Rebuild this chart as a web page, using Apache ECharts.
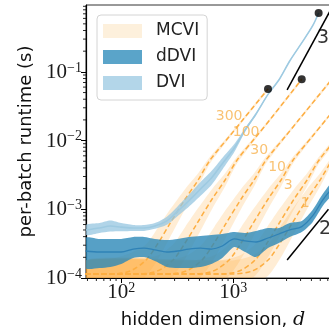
<!DOCTYPE html>
<html>
<head>
<meta charset="utf-8">
<script src="https://cdn.jsdelivr.net/npm/echarts@6/dist/echarts.min.js"></script>
<style>
  html, body { margin: 0; padding: 0; background: #fff; }
  #runtimeChart { width: 329px; height: 328px; }
</style>
</head>
<body>
<div id="runtimeChart"></div>
<script>
// rows are [hidden dimension d, low, mean, high], runtime in seconds
var dviRuns = [
  [48, 4.24e-4, 5.0e-4, 5.9e-4], [64, 4.53e-4, 5.35e-4, 6.3e-4], [80, 4.75e-4, 5.7e-4, 6.85e-4],
  [100, 4.8e-4, 5.5e-4, 6.3e-4], [128, 4.85e-4, 5.35e-4, 5.9e-4], [160, 4.85e-4, 5.35e-4, 5.9e-4],
  [200, 5.2e-4, 5.7e-4, 6.3e-4], [256, 5.95e-4, 6.8e-4, 7.8e-4], [320, 8.0e-4, 9.4e-4, 1.11e-3],
  [400, 1.08e-3, 1.32e-3, 1.61e-3], [512, 1.57e-3, 1.98e-3, 2.5e-3], [640, 2.26e-3, 2.85e-3, 3.6e-3],
  [800, 3.77e-3, 4.6e-3, 5.6e-3], [1024, 6.8e-3, 7.8e-3, 8.9e-3], [1280, 1.34e-2, 1.43e-2, 1.53e-2],
  [1600, 2.36e-2, 2.44e-2, 2.53e-2], [2048, 4.6e-2, 4.7e-2, 4.8e-2], [2560, 7.45e-2, 7.6e-2, 7.75e-2],
  [3200, 0.141, 0.144, 0.147], [4096, 0.259, 0.264, 0.269], [5120, 0.457, 0.466, 0.475],
  [5800, 0.706, 0.72, 0.734]
];
var ddviRuns = [
  [48, 1.40e-4, 2.47e-4, 3.82e-4], [64, 1.40e-4, 2.39e-4, 3.70e-4], [80, 1.45e-4, 2.39e-4, 3.70e-4],
  [100, 1.60e-4, 2.39e-4, 3.70e-4], [128, 1.96e-4, 2.64e-4, 3.95e-4], [160, 2.02e-4, 2.73e-4, 3.95e-4],
  [200, 1.77e-4, 2.56e-4, 3.70e-4], [256, 1.45e-4, 2.39e-4, 3.57e-4], [320, 1.40e-4, 2.47e-4, 3.70e-4],
  [400, 1.40e-4, 2.64e-4, 3.95e-4], [512, 1.45e-4, 2.73e-4, 4.09e-4], [640, 1.60e-4, 2.64e-4, 4.23e-4],
  [800, 1.96e-4, 2.92e-4, 4.37e-4], [1024, 2.83e-4, 3.70e-4, 4.67e-4], [1280, 2.39e-4, 3.46e-4, 4.52e-4],
  [1600, 2.02e-4, 3.34e-4, 4.83e-4], [2048, 2.73e-4, 3.82e-4, 5.34e-4], [2560, 3.23e-4, 4.37e-4, 5.34e-4],
  [3200, 3.95e-4, 5.0e-4, 6.32e-4], [4096, 4.67e-4, 5.6e-4, 6.76e-4], [5120, 6.5e-4, 8.0e-4, 9.8e-4],
  [6400, 1.15e-3, 1.41e-3, 1.73e-3], [8192, 1.9e-3, 2.3e-3, 2.8e-3]
];
var mcvi300 = [
  [48, 0.8e-4, 1.144e-4, 1.8e-4], [80, 0.8e-4, 1.144e-4, 1.9e-4], [120, 0.85e-4, 1.264e-4, 2.3e-4],
  [167, 1.08e-4, 1.828e-4, 3.1e-4], [214, 1.9e-4, 3.23e-4, 5.5e-4], [268, 3.7e-4, 5.91e-4, 9.5e-4],
  [373, 1.01e-3, 1.412e-3, 1.98e-3], [487, 2.14e-3, 2.67e-3, 3.34e-3], [623, 4.66e-3, 5.22e-3, 5.85e-3],
  [935, 1.11e-2, 1.175e-2, 1.25e-2], [1246, 1.99e-2, 2.09e-2, 2.19e-2], [2048, 0.054, 0.0564, 0.059]
];
var mcvi100 = [
  [48, 0.8e-4, 1.144e-4, 1.8e-4], [139, 0.8e-4, 1.144e-4, 2.0e-4], [210, 0.85e-4, 1.264e-4, 2.1e-4],
  [291, 1.08e-4, 1.828e-4, 3.1e-4], [372, 1.9e-4, 3.23e-4, 5.5e-4], [467, 3.7e-4, 5.91e-4, 9.5e-4],
  [649, 1.01e-3, 1.412e-3, 1.98e-3], [848, 2.14e-3, 2.67e-3, 3.34e-3], [1086, 4.66e-3, 5.22e-3, 5.85e-3],
  [1629, 1.11e-2, 1.175e-2, 1.25e-2], [2172, 1.99e-2, 2.09e-2, 2.19e-2], [4096, 0.0745, 0.078, 0.0815]
];
var mcvi30 = [
  [48, 0.8e-4, 1.144e-4, 1.8e-4], [252, 0.8e-4, 1.144e-4, 1.8e-4], [380, 0.85e-4, 1.264e-4, 2.1e-4],
  [528, 1.08e-4, 1.828e-4, 3.1e-4], [676, 1.9e-4, 3.23e-4, 5.5e-4], [847, 3.7e-4, 5.91e-4, 9.5e-4],
  [1178, 1.01e-3, 1.412e-3, 1.98e-3], [1539, 2.14e-3, 2.67e-3, 3.34e-3], [1970, 4.66e-3, 5.22e-3, 5.85e-3],
  [2955, 1.11e-2, 1.175e-2, 1.25e-2], [3940, 1.99e-2, 2.09e-2, 2.19e-2], [8192, 0.086, 0.0903, 0.095]
];
var mcvi10 = [
  [48, 0.8e-4, 1.144e-4, 1.8e-4], [439, 0.8e-4, 1.144e-4, 1.8e-4], [663, 0.85e-4, 1.264e-4, 2.1e-4],
  [920, 1.08e-4, 1.828e-4, 3.1e-4], [1178, 1.9e-4, 3.23e-4, 5.5e-4], [1476, 3.7e-4, 5.91e-4, 9.5e-4],
  [2053, 1.01e-3, 1.412e-3, 1.98e-3], [2681, 2.14e-3, 2.67e-3, 3.34e-3], [3433, 4.66e-3, 5.22e-3, 5.85e-3],
  [5150, 1.11e-2, 1.175e-2, 1.25e-2], [6866, 1.99e-2, 2.09e-2, 2.19e-2], [9000, 0.0342, 0.0359, 0.0376]
];
var mcvi3 = [
  [48, 0.8e-4, 1.144e-4, 1.8e-4], [750, 0.8e-4, 1.144e-4, 1.8e-4], [1131, 0.85e-4, 1.264e-4, 2.1e-4],
  [1571, 1.08e-4, 1.828e-4, 3.1e-4], [2010, 1.9e-4, 3.23e-4, 5.5e-4], [2520, 3.7e-4, 5.91e-4, 9.5e-4],
  [3505, 1.01e-3, 1.412e-3, 1.98e-3], [4577, 2.14e-3, 2.67e-3, 3.34e-3], [5861, 4.66e-3, 5.22e-3, 5.85e-3],
  [9000, 1.16e-2, 1.23e-2, 1.31e-2]
];
var mcvi1 = [
  [48, 0.8e-4, 1.144e-4, 1.8e-4], [980, 0.8e-4, 1.144e-4, 1.8e-4], [1478, 0.85e-4, 1.264e-4, 2.1e-4],
  [2052, 1.08e-4, 1.828e-4, 3.1e-4], [2626, 1.9e-4, 3.23e-4, 5.5e-4], [3292, 3.7e-4, 5.91e-4, 9.5e-4],
  [4578, 1.01e-3, 1.412e-3, 1.98e-3], [5979, 2.14e-3, 2.67e-3, 3.34e-3], [7656, 4.66e-3, 5.22e-3, 5.85e-3],
  [9000, 6.6e-3, 7.21e-3, 7.9e-3]
];
var sampleCounts = ['1', '3', '10', '30', '100', '300'];
var mcviLabelAt = [[4395, 1.235e-3], [3098, 2.26e-3], [2470, 4.13e-3], [1706, 7.3e-3], [1306, 1.334e-2], [921, 2.28e-2]];

// end points where runs stop (out of memory)
var lastRun = [[2048, 0.0564], [4096, 0.078], [5800, 0.72]];
// reference slopes
var slope3 = [[3034, 0.0546], [7400, 0.79]];
var slope2 = [[3034, 1.83e-4], [7100, 1.0e-3]];
var slopeLabelAt = [[6363, 0.311, '3'], [6622, 5.16e-4, '2']];

var xMinorTicks = [50, 60, 70, 80, 90, 200, 300, 400, 500, 600, 700, 800, 900, 2000, 3000, 4000, 5000, 6000, 7000, 8000];
var yMinorTicks = [2e-4, 3e-4, 4e-4, 5e-4, 6e-4, 7e-4, 8e-4, 9e-4, 2e-3, 3e-3, 4e-3, 5e-3, 6e-3, 7e-3, 8e-3, 9e-3,
  2e-2, 3e-2, 4e-2, 5e-2, 6e-2, 7e-2, 8e-2, 9e-2, 0.2, 0.3, 0.4, 0.5, 0.6, 0.7, 0.8, 0.9];

var X_MIN = 48.5, X_MAX = 9000, Y_MIN = 1e-4, Y_MAX = 0.94;

var myChart = echarts.init(document.getElementById('runtimeChart'));

function powLabel(v) {
  var e = Math.round(Math.log10(v));
  return '{b|10}{s|' + (e < 0 ? '\u2212' + (-e) : e) + '}';
}
var tickRich = {
  b: { fontFamily: 'Liberation Serif', fontSize: 21, lineHeight: 22, verticalAlign: 'bottom', color: '#1a1a1a' },
  s: { fontFamily: 'Liberation Serif', fontSize: 14, lineHeight: 14, verticalAlign: 'top', padding: [0, 0, 11, 0], color: '#1a1a1a' }
};

// filled band between low and high
function band(name, rows, fill, z) {
  return {
    type: 'custom', name: name, z: z, silent: true, clip: true,
    itemStyle: { color: fill },
    encode: { x: 0, y: 2 },
    data: rows,
    renderItem: function (params, api) {
      if (params.dataIndex !== 0) return null;
      var top = rows.map(function (r) { return api.coord([r[0], r[3]]); });
      var bottom = rows.map(function (r) { return api.coord([r[0], r[1]]); }).reverse();
      return {
        type: 'polygon',
        shape: { points: top.concat(bottom), smooth: 0.25, smoothConstraint: false },
        style: { fill: fill }
      };
    }
  };
}
function meanLine(name, rows, lineStyle, z) {
  return {
    type: 'line', name: name, z: z, silent: true, smooth: 0.3,
    showSymbol: false, symbol: 'none', clip: true,
    lineStyle: lineStyle,
    data: rows.map(function (r) { return [r[0], r[2]]; })
  };
}
function minorTicks(values, vertical) {
  return {
    type: 'custom', silent: true, clip: false, z: 20,
    encode: { x: 0, y: 1 },
    data: values.map(function (v) { return vertical ? [X_MIN, v] : [v, Y_MIN]; }),
    renderItem: function (params, api) {
      var p = api.coord([api.value(0), api.value(1)]);
      var shape = vertical ? { x1: p[0] - 3, y1: p[1], x2: p[0], y2: p[1] }
                           : { x1: p[0], y1: p[1], x2: p[0], y2: p[1] + 3 };
      return { type: 'line', shape: shape, style: { stroke: '#111', lineWidth: 0.9 } };
    }
  };
}

var mcviSets = [mcvi1, mcvi3, mcvi10, mcvi30, mcvi100, mcvi300];
var mcviFill = 'rgba(253,174,66,0.22)';
var mcviColor = '#fdae42';

var series = [];
mcviSets.forEach(function (rows) { series.push(band('MCVI', rows, mcviFill, 1)); });
mcviSets.forEach(function (rows, i) {
  series.push(meanLine('MCVI S=' + sampleCounts[i], rows, { color: mcviColor, width: 1.5, type: [5, 3] }, 2));
});
series.push(band('dDVI', ddviRuns, 'rgba(44,136,184,0.8)', 3));
series.push(meanLine('dDVI mean', ddviRuns, { color: '#2f82b6', width: 1.3 }, 4));
series.push(band('DVI', dviRuns, 'rgba(150,198,224,0.75)', 5));
series.push(meanLine('DVI mean', dviRuns, { color: '#9ecae1', width: 1.6 }, 6));
series.push({
  type: 'scatter', name: 'sample labels', z: 7, silent: true, symbolSize: 0,
  data: mcviLabelAt.map(function (p, i) { return { value: p, name: sampleCounts[i] }; }),
  label: { show: true, position: 'inside', formatter: '{b}', color: '#f8b350',
           fontFamily: 'DejaVu Sans', fontSize: 14 }
});
series.push({
  type: 'line', name: 'slope 3', z: 7, silent: true, showSymbol: false, symbol: 'none',
  lineStyle: { color: '#000', width: 1.5 }, data: slope3
});
series.push({
  type: 'line', name: 'slope 2', z: 7, silent: true, showSymbol: false, symbol: 'none',
  lineStyle: { color: '#000', width: 1.5 }, data: slope2
});
series.push({
  type: 'scatter', name: 'slope labels', z: 7, silent: true, symbolSize: 0,
  data: slopeLabelAt.map(function (p) { return { value: [p[0], p[1]], name: p[2] }; }),
  label: { show: true, position: 'inside', formatter: '{b}', color: '#000',
           fontFamily: 'DejaVu Sans', fontSize: 19 }
});
series.push({
  type: 'scatter', name: 'last run', z: 8, silent: true, symbolSize: 8,
  itemStyle: { color: '#000' }, data: lastRun
});
series.push(minorTicks(xMinorTicks, false));
series.push(minorTicks(yMinorTicks, true));

option = {
  animation: false,
  backgroundColor: '#fff',
  grid: {
    left: 86, top: 5, width: 254, height: 273, outerBoundsMode: 'none', containLabel: false,
    show: true, borderColor: '#333', borderWidth: 1
  },
  legend: {
    orient: 'vertical', left: 97, top: 15, selectedMode: false,
    padding: [7, 8, 8, 6], itemGap: 8, itemWidth: 39, itemHeight: 14,
    borderColor: '#d4d4d4', borderWidth: 1, borderRadius: 4, backgroundColor: 'rgba(255,255,255,0.85)',
    textStyle: { fontFamily: 'DejaVu Sans', fontSize: 17, color: '#222', lineHeight: 18, padding: [0, 0, 0, 9] },
    data: [
      { name: 'MCVI', icon: 'rect', itemStyle: { color: '#fdf0dc' } },
      { name: 'dDVI', icon: 'rect', itemStyle: { color: '#5aa4c9' } },
      { name: 'DVI', icon: 'rect', itemStyle: { color: '#b3d6e9' } }
    ]
  },
  xAxis: {
    type: 'log', logBase: 10, min: X_MIN, max: X_MAX, splitNumber: 2,
    name: '{n|hidden dimension, }{d|d}', nameLocation: 'middle', nameGap: 32,
    nameTextStyle: {
      rich: {
        n: { fontFamily: 'DejaVu Sans', fontSize: 18, color: '#111' },
        d: { fontFamily: 'DejaVu Serif', fontStyle: 'italic', fontSize: 19, color: '#111' }
      }
    },
    axisLine: { show: true, lineStyle: { color: '#000', width: 1.2 } },
    axisTick: { show: true, length: 5, lineStyle: { color: '#000' } },
    splitLine: { show: false },
    axisLabel: { formatter: powLabel, rich: tickRich, margin: 3, showMinLabel: false, showMaxLabel: false }
  },
  yAxis: {
    type: 'log', logBase: 10, min: Y_MIN, max: Y_MAX, splitNumber: 4,
    name: 'per-batch runtime (s)', nameLocation: 'middle', nameGap: 51,
    nameTextStyle: { fontFamily: 'DejaVu Sans', fontSize: 18, color: '#111' },
    axisLine: { show: true, lineStyle: { color: '#000', width: 1.2 } },
    axisTick: { show: true, length: 5, lineStyle: { color: '#000' } },
    splitLine: { show: false },
    axisLabel: { formatter: powLabel, rich: tickRich, margin: 4, showMaxLabel: false }
  },
  series: series
};
myChart.setOption(option);
</script>
</body>
</html>
